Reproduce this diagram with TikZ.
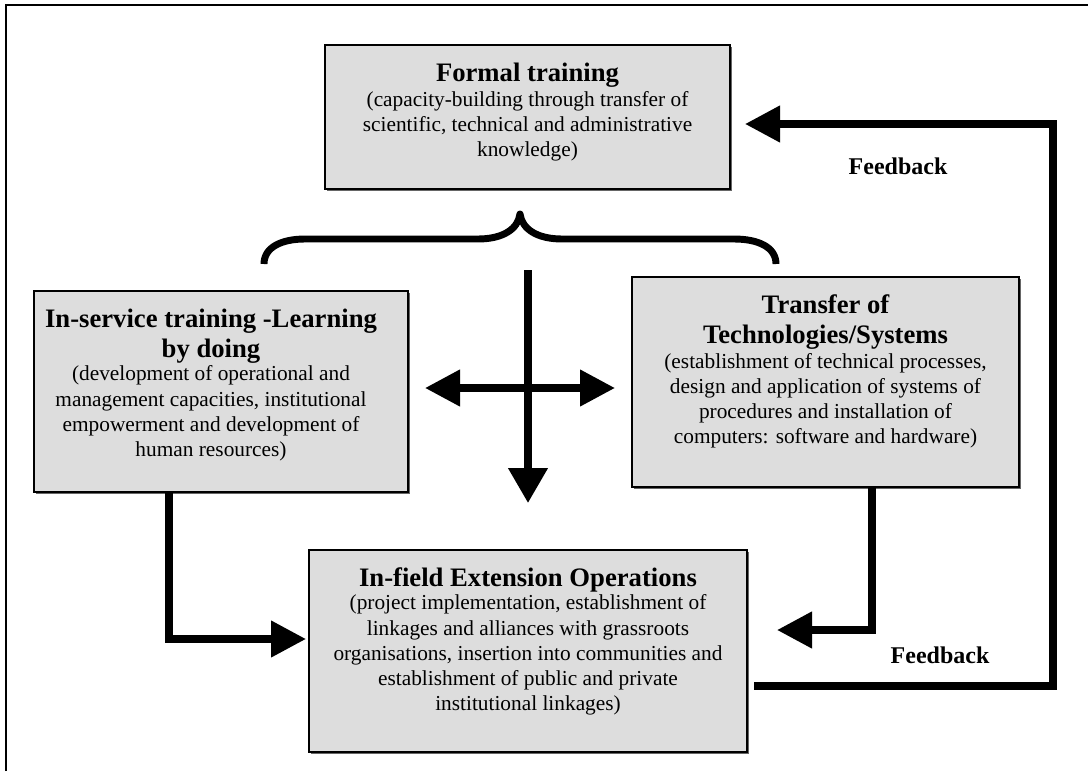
\documentclass[tikz,border=0pt]{standalone}
\usepackage{fontspec}
\setmainfont{Liberation Serif}
\usetikzlibrary{arrows.meta,shadows}
\definecolor{boxfill}{RGB}{221,221,221}

% Box contents: #1 width, #2 height, #3 bold heading, #4 description,
% #5 extra space between heading and description, #6 right indent
\newcommand\boxtext[6]{%
  \begin{minipage}[c][#2][t]{#1}\centering\rightskip=#6 plus 1fil\relax
  {\fontsize{20}{23}\selectfont\bfseries\rule{0pt}{27pt}#3\par}
  \vspace{#5}
  {\fontsize{16}{18.9}\selectfont #4\par}
  \end{minipage}}

\tikzset{
  box/.style={draw=black, line width=1.1pt, fill=boxfill, inner sep=0pt,
    drop shadow={shadow xshift=1.3pt, shadow yshift=-1.3pt, fill=black!60, opacity=1}},
  flow/.style={line width=5.6pt, -{Triangle[length=26.25pt,width=26.25pt]}},
  bothflow/.style={line width=5.6pt, {Triangle[length=26.25pt,width=26.25pt]}-{Triangle[length=26.25pt,width=26.25pt]}},
  downflow/.style={line width=5.6pt, -{Triangle[length=26.25pt,width=28.5pt]}},
  bracket/.style={line width=5.2pt, line join=round},
  fblabel/.style={font=\fontsize{18}{21}\selectfont\bfseries, inner sep=0pt},
  frame/.style={line width=1.3pt}
}

\begin{document}
\begin{tikzpicture}[x=0.75pt, y=-0.75pt]
  \useasboundingbox (0,0) rectangle (1088,771);

  % outer frame (top and left rules)
  \draw[frame] (6,771) -- (6,5) -- (1088,5);

  % boxes
  \node[box] (formal) at (527.5,117) {\boxtext{303.75pt}{108pt}{Formal training}{%
    (capacity-building through transfer of\\
    scientific, technical and administrative\\
    knowledge)}{0pt}{0pt}};

  \node[box] (inservice) at (221,391.5) {\boxtext{280.5pt}{150.75pt}{%
    In-service training -Learning\\ by doing}{%
    (development of operational and\\
    management capacities, institutional\\
    empowerment and development of\\
    human resources)}{-1.5pt}{15pt}};

  \node[box] (transfer) at (825.5,382) {\boxtext{290.25pt}{157.5pt}{%
    Transfer of\\ Technologies/Systems}{%
    (establishment of technical processes,\\
    design and application of systems of\\
    procedures and installation of\\
    computers: software and hardware)}{-0.5pt}{0pt}};

  \node[box] (infield) at (528,651) {\boxtext{328.5pt}{151.5pt}{In-field Extension Operations}{%
    (project implementation, establishment of\\
    linkages and alliances with grassroots\\
    organisations, insertion into communities and\\
    establishment of public and private\\
    institutional linkages)}{-1pt}{0pt}};

  % brace under the formal training box
  \draw[bracket] (264,264) .. controls (264,247) and (282,239) .. (305,239)
    -- (478,239) .. controls (503,239) and (518,229) .. (520,214)
    .. controls (522,229) and (537,239) .. (562,239)
    -- (734,239) .. controls (758,239) and (776,247) .. (776,264);

  % cross of arrows
  \coordinate (crossTop) at (528,270);
  \coordinate (crossBot) at (528,503);
  \coordinate (crossL) at (425,388);
  \coordinate (crossR) at (615,388);
  \draw[downflow] (crossTop) -- (crossBot);
  \draw[bothflow] (crossL) -- (crossR);

  % flows into the in-field box
  \coordinate (isOut) at (169,492);
  \coordinate (ifInL) at (306,639);
  \draw[flow] (isOut) |- (ifInL);

  \coordinate (tfOut) at (872,487);
  \coordinate (ifInR) at (777,630);
  \draw[flow] (tfOut) |- (ifInR);

  % feedback loop
  \coordinate (fbStart) at (754,686);
  \coordinate (fbCorner) at (1053,124);
  \coordinate (fbEnd) at (745,124);
  \draw[flow] (fbStart) -| (fbCorner) -- (fbEnd);

  \node[fblabel] (fbTop) at (898,166) {Feedback};
  \node[fblabel] (fbBottom) at (940,655) {Feedback};
\end{tikzpicture}
\end{document}
